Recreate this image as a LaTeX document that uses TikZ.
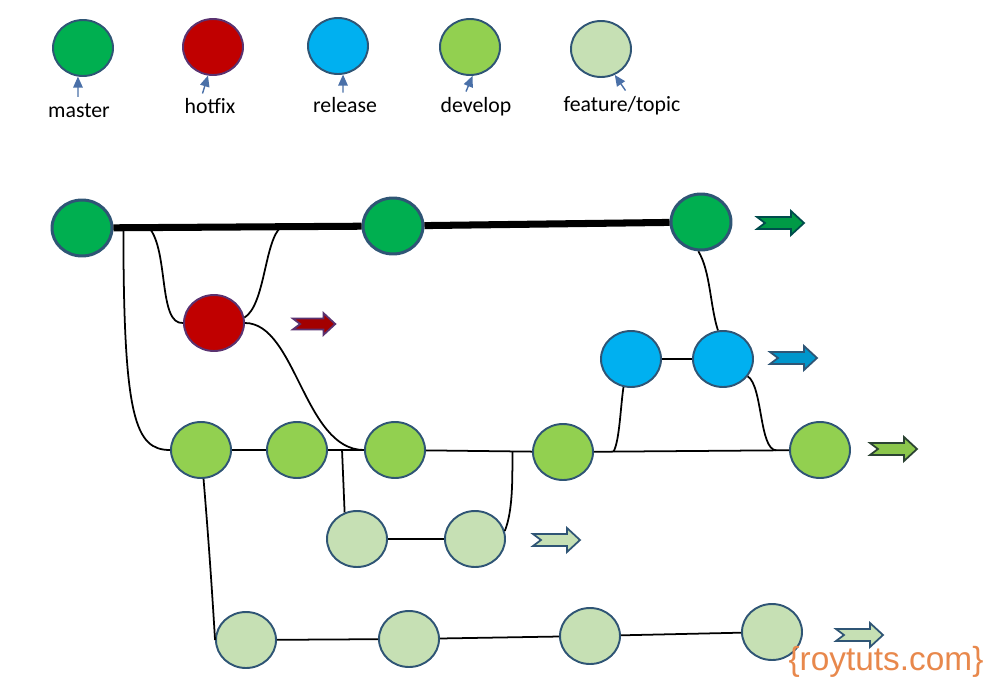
\documentclass[tikz,border=0pt]{standalone}
\usepackage{fontspec}
\setmainfont{Carlito}
\newfontfamily\markfont{Liberation Sans}
\usetikzlibrary{positioning, arrows.meta, shapes.geometric}
\definecolor{masterfill}{HTML}{00AF50}
\definecolor{hotfixfill}{HTML}{C00000}
\definecolor{releasefill}{HTML}{00B0F0}
\definecolor{developfill}{HTML}{92D050}
\definecolor{featurefill}{HTML}{C6E0B4}
\definecolor{rim}{HTML}{2F5575}
\definecolor{hotrim}{HTML}{5A3270}
\definecolor{tagblue}{HTML}{4A70A8}
\definecolor{markorange}{HTML}{E8884C}
\tikzset{
x=0.02cm, y=-0.02cm, % one unit is one pixel of the sketch, y runs down
commit/.style={ellipse, minimum width=1.2cm, minimum height=1.12cm, inner sep=0pt, draw=rim, line width=1.1pt}, % every commit
master/.style={commit, fill=masterfill},
hotfix/.style={commit, fill=hotfixfill, draw=hotrim},
release/.style={commit, fill=releasefill},
develop/.style={commit, fill=developfill},
feature/.style={commit, fill=featurefill},
tip/.style={line width=1.7pt}, % the heads of master
link/.style={line width=1pt},
trunk/.style={line width=4pt},
legendtext/.style={font=\fontsize{12.4}{14}\selectfont, anchor=base, inner sep=0pt},
tag/.style={draw=tagblue, line width=0.8pt, -{Triangle[length=0.22cm, width=0.19cm]}, tagblue},
pics/pushtag/.style={code={
  \draw[pic actions, line width=1pt] (0,-6) -- (34,-6) -- (34,-12) -- (47,0) -- (34,12) -- (34,6) -- (0,6) -- (8,0) -- cycle;
}},
}
\begin{document}
\begin{tikzpicture}
\useasboundingbox (0,0) rectangle (988,687);

% legend
\node[master] (kmaster) at (83,48) {};
\node[hotfix] (khotfix) at (213,47) {};
\node[release] (krelease) at (338,46) {};
\node[develop] (kdevelop) at (470,47) {};
\node[feature] (kfeature) at (601,49) {};

\node[legendtext] (lmaster) at (79,117) {master};
\node[legendtext] (lhotfix) at (210,113) {hotfix};
\node[legendtext] (lrelease) at (345,112) {release};
\node[legendtext] (ldevelop) at (476,112) {develop};
\node[legendtext] (lfeature) at (622,111) {feature/topic};

\draw[tag] ([xshift=-0.02cm, yshift=0.12cm]lmaster.north) -- (kmaster.-100);
\draw[tag] ([xshift=-0.15cm, yshift=0.08cm]lhotfix.north) -- (khotfix.-100);
\draw[tag] ([xshift=-0.04cm, yshift=0.08cm]lrelease.north) -- (krelease.-80);
\draw[tag] ([xshift=-0.2cm, yshift=0.1cm]ldevelop.north) -- (kdevelop.-85);
\draw[tag] ([xshift=0.07cm, yshift=0.1cm]lfeature.north) -- (kfeature.-62);

% commits
\node[master, tip] (M1) at (82,228) {};
\node[master, tip] (M2) at (393,226) {};
\node[master, tip] (M3) at (701,222) {};

\node[hotfix] (H1) at (214,323) {};

\node[release] (R1) at (631,359) {};
\node[release] (R2) at (723,359) {};

\node[develop] (D1) at (201,450) {};
\node[develop] (D2) at (297,450) {};
\node[develop] (D3) at (395,450) {};
\node[develop] (D4) at (563,452) {};
\node[develop] (D5) at (820,450) {};

\node[feature] (F1) at (357,539) {};
\node[feature] (F2) at (475,539) {};

\node[feature] (G1) at (246,640) {};
\node[feature] (G2) at (409,639) {};
\node[feature] (G3) at (590,636) {};
\node[feature] (G4) at (772,632) {};

% branch lines
\draw[trunk] (M1) -- coordinate[pos=.04] (fork1) coordinate[pos=.143] (fork2) coordinate[pos=.677] (fork3) (M2);
\draw[trunk] (M2) -- (M3);

\draw[link] (D1) -- (D2);
\draw[link] (D2) -- coordinate[pos=.39] (fork4) (D3);
\draw[link] (D3) -- coordinate[pos=.815] (fork5) (D4);
\draw[link] (D4) -- coordinate[pos=.1] (fork6) coordinate[pos=.934] (fork7) (D5);
\draw[link] (F1) -- (F2);
\draw[link] (R1) -- (R2);
\draw[link] (G1) -- (G2);
\draw[link] (G2) -- (G3);
\draw[link] (G3) -- (G4);

\draw[link]
(fork1) .. controls +(0,190) and +(-35,0) .. (D1.west)
(fork2) .. controls +(20,23) and +(-25,2) .. (H1.west)
(H1.10) .. controls +(21,-13) and +(-17,13) .. (fork3)
(H1.east) .. controls +(51,0) and +(-60,0) .. (D3.west)
(fork4) -- (F1.115)
(F2.15) .. controls +(8,-20) and +(0,30) .. (fork5)
(D1.-85) .. controls +(5,60) and +(-3,-50) .. (G1.west)
(fork6) .. controls +(6,-10) and +(-3,20) .. (R1.-105)
(R2.-35) .. controls +(15,10) and +(-17,-1) .. (fork7)
(M3.-95) .. controls +(12,20) and +(-8,-25) .. (R2.100)
;

% heads of the branches
\pic[fill=masterfill!88!black, draw=teal!60!black] at (757,223) {pushtag};
\pic[fill=hotfixfill!85!black, draw=hotrim, scale=0.9] at (293,324) {pushtag};
\pic[fill=releasefill!85!black, draw=rim] at (770,358) {pushtag};
\pic[fill=developfill!95!black, draw=rim!60!developfill!50!black] at (870,449) {pushtag};
\pic[fill=featurefill, draw=rim] at (533,540) {pushtag};
\pic[fill=featurefill, draw=rim] at (836,635) {pushtag};

\node[font=\markfont\fontsize{19}{22}\selectfont, text=markorange, inner sep=0pt] (mark) at (886,662) {\{roytuts.com\}};
\end{tikzpicture}
\end{document}
